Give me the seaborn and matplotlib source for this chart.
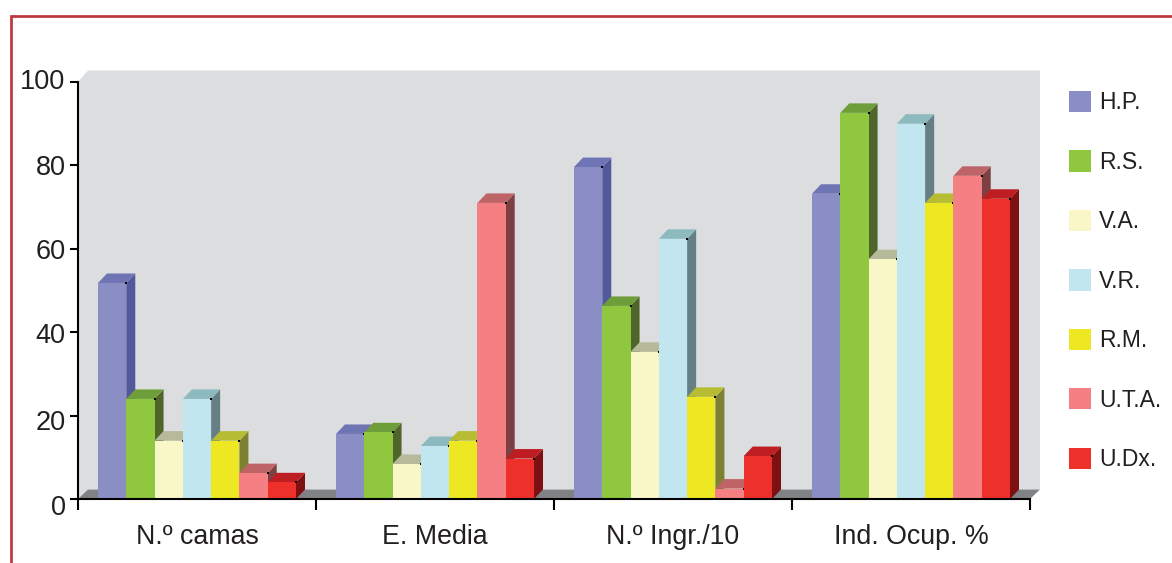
import numpy as np
import pandas as pd
import seaborn as sns
import matplotlib.pyplot as plt
from matplotlib.lines import Line2D
from matplotlib.patches import Polygon
from matplotlib.transforms import ScaledTranslation

# Datos ------------------------------------------------------------------------
categorias = ["N.º camas", "E. Media", "N.º Ingr./10", "Ind. Ocup. %"]
unidades = ["H.P.", "R.S.", "V.A.", "V.R.", "R.M.", "U.T.A.", "U.Dx."]

hp = [51.8, 15.6, 79.6, 73.2]
rs = [24.0, 16.0, 46.3, 92.6]
va = [14.0, 8.4, 35.3, 57.5]
vr = [24.0, 12.7, 62.4, 90.0]
rm = [14.0, 14.0, 24.5, 71.0]
uta = [6.2, 71.0, 2.5, 77.5]
udx = [4.0, 9.7, 10.3, 72.0]

# Colores: frente, tapa, lateral
frente = ["#8B8EC4", "#8FC73E", "#F9F7C8", "#C2E6EF", "#EEE823", "#F58084", "#EE302A"]
tapa = ["#6E74B4", "#6E9E3A", "#B6BA9A", "#8CBABF", "#B7BD32", "#BF6466", "#BE1E22"]
lateral = ["#53589A", "#4F652A", "#8C8B70", "#667F84", "#7E8131", "#7D4042", "#7E1012"]

TEXTO = "#231F20"
W, H = 1172, 563
PX_X = (1030 - 78) / 4    # px por categoría
PX_Y = (499 - 82) / 100   # px por unidad

# Figura -----------------------------------------------------------------------
sns.set_theme(style="white")
plt.rcParams["font.family"] = ["Liberation Sans", "DejaVu Sans"]

fig = plt.figure(figsize=(W / 100, H / 100), dpi=100)
ax = fig.add_axes([78 / W, 1 - 499 / H, (1030 - 78) / W, (499 - 82) / H])

df = pd.DataFrame(
    {"H.P.": hp, "R.S.": rs, "V.A.": va, "V.R.": vr, "R.M.": rm, "U.T.A.": uta, "U.Dx.": udx},
    index=categorias,
).reset_index(names="categoria")
largo = df.melt(id_vars="categoria", var_name="unidad", value_name="valor")

sns.barplot(
    data=largo, x="categoria", y="valor", hue="unidad", hue_order=unidades,
    order=categorias, palette=frente, saturation=1, width=0.832, gap=0,
    linewidth=0, ax=ax,
)
handles, labels = ax.get_legend_handles_labels()
ax.get_legend().remove()

ax.set_xlim(-0.5, 3.5)
ax.set_ylim(0, 100)

# Profundidad en unidades de datos
dx = 9 / PX_X
dy = 9.5 / PX_Y
pared_dx = 10 / PX_X
suelo_dy = 9.5 / PX_Y
techo_dy = 11.5 / PX_Y

# Pared y suelo
ax.add_patch(Polygon(
    [(-0.5, 0), (-0.5, 100), (-0.5 + pared_dx, 100 + techo_dy), (3.5 + pared_dx, 100 + techo_dy),
     (3.5 + pared_dx, suelo_dy), (-0.5 + pared_dx, suelo_dy)],
    closed=True, fc="#DCDDDF", ec="none", zorder=0, clip_on=False,
))
ax.add_patch(Polygon(
    [(-0.5, 0), (-0.5 + pared_dx, suelo_dy), (3.5 + pared_dx, suelo_dy), (3.5, 0)],
    closed=True, fc="#808285", ec="none", zorder=0.5, clip_on=False,
))

# Tapa y lateral de cada barra, sacados de las barras de seaborn
for j, contenedor in enumerate(ax.containers):
    z = 3 + j * 0.1
    for barra in contenedor:
        x0, ancho, alto = barra.get_x(), barra.get_width(), barra.get_height()
        x1 = x0 + ancho
        ax.add_patch(Polygon(
            [(x1, 0), (x1 + dx, dy), (x1 + dx, alto + dy), (x1, alto)],
            closed=True, fc=lateral[j], ec="none", zorder=z, clip_on=False,
        ))
        ax.add_patch(Polygon(
            [(x0, alto), (x0 + dx, alto + dy), (x1 + dx, alto + dy), (x1, alto)],
            closed=True, fc=tapa[j], ec="none", zorder=z, clip_on=False,
        ))
        barra.set_zorder(z + 0.01)
        ax.plot([x1], [alto], marker="s", ms=2, color="black", mew=0, zorder=z + 0.02, clip_on=False)

# Ejes -------------------------------------------------------------------------
ax.set_xlabel("")
ax.set_ylabel("")
sns.despine(ax=ax)
for lado in ["left", "bottom"]:
    ax.spines[lado].set_color("black")
    ax.spines[lado].set_linewidth(1.5)
    ax.spines[lado].set_zorder(5)

ax.set_yticks(np.arange(0, 101, 20))
ax.set_xticks(np.arange(-0.5, 4, 1), minor=True)
ax.tick_params(axis="x", which="major", length=0, pad=18, labelsize=19.3, labelcolor=TEXTO)
ax.tick_params(axis="x", which="minor", bottom=True, length=8, width=1.5, color="black")
ax.tick_params(axis="y", left=True, length=6, width=1.5, color="black", pad=3, labelsize=19.5, labelcolor=TEXTO)

# En el original las etiquetas del eje y no caen justo sobre su marca
for etiqueta, baja in zip(ax.get_yticklabels(), [6, 4, 1, 0, 0, -3]):
    etiqueta.set_transform(etiqueta.get_transform() + ScaledTranslation(0, -baja / 100, fig.dpi_scale_trans))

# Leyenda ----------------------------------------------------------------------
fig.legend(
    handles, labels, loc="upper left", bbox_to_anchor=(1069 / W, 1 - 91 / H),
    frameon=False, fontsize=16.5, labelcolor=TEXTO, handlelength=0.96, handleheight=1.05,
    handletextpad=0.35, labelspacing=1.57, borderaxespad=0, borderpad=0,
)

# Marco rojo
fig.add_artist(Line2D([10.7 / W, 10.7 / W, 1], [0, 1 - 15.5 / H, 1 - 15.5 / H], color="#BE3A43", lw=2, solid_joinstyle="miter"))

fig.savefig("out.png", dpi=100)
